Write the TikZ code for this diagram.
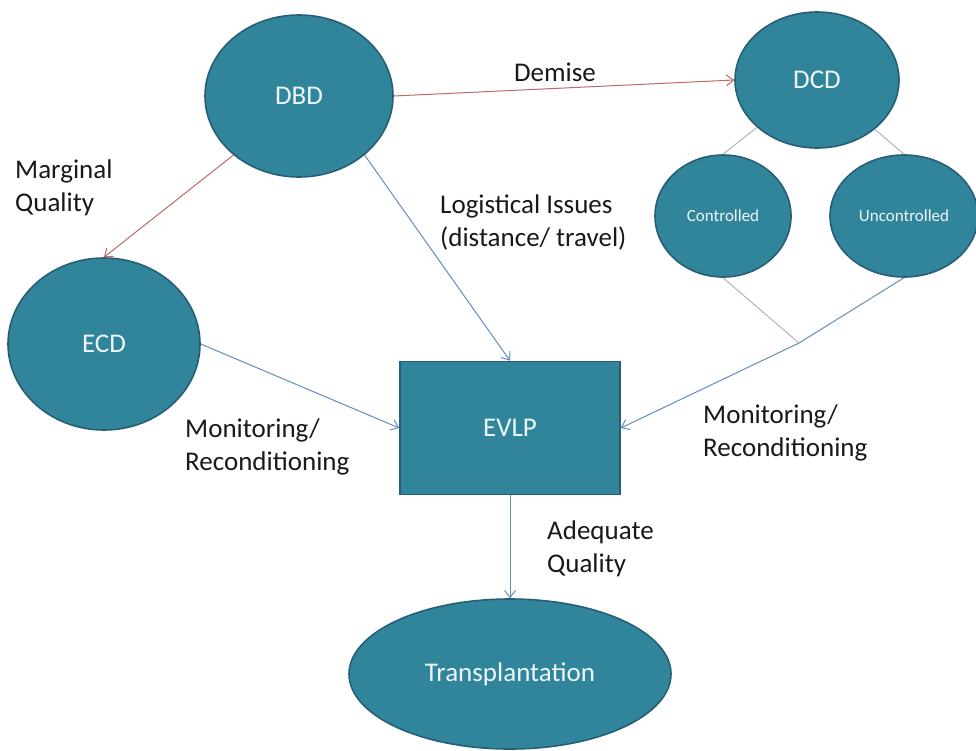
\documentclass[tikz,border=0pt]{standalone}
\usepackage{fontspec}
\setmainfont{Carlito}
\usetikzlibrary{shapes.geometric,arrows.meta}
\definecolor{nodefill}{RGB}{49,133,155}
\definecolor{nodeedge}{RGB}{38,94,120}
\definecolor{nodetext}{RGB}{236,246,248}
\definecolor{bluelink}{RGB}{100,140,190}
\definecolor{redlink}{RGB}{190,105,105}
\definecolor{greylink}{RGB}{170,182,202}
\begin{document}
\begin{tikzpicture}[x=1pt,y=-1pt,
  bigfont/.style={font=\fontsize{27}{33}\selectfont},
  smallfont/.style={font=\fontsize{17}{20}\selectfont},
  donor/.style={ellipse, draw=nodeedge, line width=1.6pt, fill=nodefill,
    text=nodetext, inner sep=0pt, bigfont},
  stage/.style={rectangle, draw=nodeedge, line width=1.6pt, fill=nodefill,
    text=nodetext, inner sep=0pt, bigfont},
  lbl/.style={text=black!90, align=left, inner sep=0pt, bigfont},
  tip/.style={-{Straight Barb[length=7pt,width=11pt]}},
  bluearrow/.style={draw=bluelink, line width=1pt, tip},
  redarrow/.style={draw=redlink, line width=1pt, tip},
  greyline/.style={draw=greylink, line width=1pt}
]
\useasboundingbox (0,0) rectangle (976,750);

% donor categories and stages
\node[donor, minimum width=188, minimum height=162] (DBD) at (299,96) {DBD};
\node[donor, minimum width=164, minimum height=136] (DCD) at (817,80) {DCD};
\node[donor, smallfont, minimum width=136, minimum height=122] (ctrl) at (723,216) {Controlled};
\node[donor, smallfont, minimum width=148, minimum height=122] (unctrl) at (904,216) {Uncontrolled};
\node[donor, minimum width=192, minimum height=172] (ECD) at (104,344) {ECD};
\node[stage, minimum width=220, minimum height=133] (EVLP) at (510,428) {EVLP};
\node[donor, minimum width=322, minimum height=150] (TX) at (510,674) {Transplantation};

% merge point of the two DCD branches
\coordinate (J) at (799,343);

% connectors
\draw[redarrow] (DBD.east) -- (DCD.west);
\draw[redarrow] (DBD.-138) -- (ECD.north);
\draw[bluearrow] (DBD.-42) -- (EVLP.north);
\draw[bluearrow] (ECD.east) -- (EVLP.west);
\draw[greyline] (DCD) -- (ctrl.north);
\draw[greyline] (DCD) -- (unctrl.north);
\draw[greyline] (ctrl.south) -- (J);
\draw[bluelink, line width=1pt] (unctrl.south) -- (J);
\draw[bluearrow] (J) -- (EVLP.east);
\draw[bluearrow] (EVLP.south) -- (TX.north);

% connector labels
\node[lbl] (demise) at (555,72) {Demise};
\node[lbl, anchor=west] (marginal) at (15,188) {Marginal\\Quality};
\node[lbl, anchor=west] (logistic) at (440,222) {Logistical Issues\\(distance/ travel)};
\node[lbl, anchor=west] (monleft) at (185,447) {Monitoring/\\Reconditioning};
\node[lbl, anchor=west] (monright) at (703,433) {Monitoring/\\Reconditioning};
\node[lbl, anchor=west] (adequate) at (547,549) {Adequate\\Quality};
\end{tikzpicture}
\end{document}
